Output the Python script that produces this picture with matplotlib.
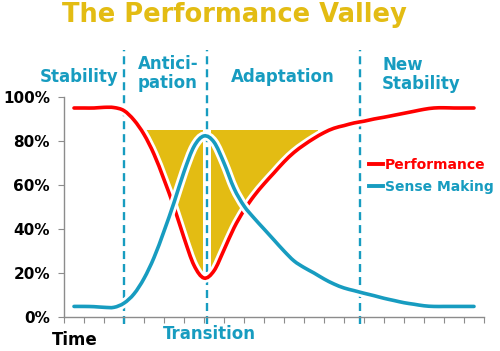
import numpy as np
import matplotlib
matplotlib.use("Agg")
import matplotlib.pyplot as plt
from matplotlib.path import Path
from matplotlib.patches import PathPatch, Rectangle
from matplotlib.lines import Line2D
import matplotlib.patheffects as pe

# time positions (axis units, one tick per unit) and readings in percent
time = [0.5 + 0.5 * i for i in range(41)]
performance = [95, 95, 95, 95.3, 95.2, 93.8, 89.5, 83, 74, 62.5,
               50, 36, 23.5, 17.7, 21, 30.5, 40.5, 48.5, 55, 60.5,
               65.5, 70.5, 74.8, 78.2, 81.2, 83.8, 85.8, 87, 88.2, 89,
               90, 90.8, 91.7, 92.6, 93.5, 94.4, 95, 95.1, 95, 95, 95]
sense_making = [4.8, 4.8, 4.7, 4.4, 4.4, 6.3, 10.5, 17.5, 27, 39,
                52, 66, 77.5, 82.3, 79.5, 70, 58.5, 50.5, 45, 40,
                35, 30, 25.5, 22.5, 20, 17.3, 15, 13.2, 12, 10.8,
                9.7, 8.5, 7.5, 6.5, 5.8, 5.1, 4.8, 4.8, 4.8, 4.8, 4.8]

phase_edges = [3.0, 7.15, 14.8]
phase_names = ["Stability", "Antici-\npation", "Adaptation", "New\nStability"]
yticks = [0, 20, 40, 60, 80, 100]
ytick_labels = [f"{v}%" for v in yticks]

RED = "#FF0000"
TEAL = "#179CC0"
GOLD = "#E3BC13"
GREY = "#8C8C8C"


def smooth_path(x, y):
    # Catmull-Rom style cubic bezier through the points
    n = len(x)
    verts = [(x[0], y[0])]
    codes = [Path.MOVETO]
    for i in range(n - 1):
        a = max(i - 1, 0)
        b = min(i + 2, n - 1)
        c1 = (x[i] + (x[i + 1] - x[a]) / 6, y[i] + (y[i + 1] - y[a]) / 6)
        c2 = (x[i + 1] - (x[b] - x[i]) / 6, y[i + 1] - (y[b] - y[i]) / 6)
        verts += [c1, c2, (x[i + 1], y[i + 1])]
        codes += [Path.CURVE4] * 3
    return Path(verts, codes)


fig = plt.figure(figsize=(5, 3.51), dpi=100)
ax = fig.add_axes([64 / 500, 34 / 351, 420 / 500, 220 / 351])
ax.set_xlim(0, 21)
ax.set_ylim(0, 100)

perf_path = smooth_path(time, performance)
sense_path = smooth_path(time, sense_making)

# region above the performance curve, used to clip the gold valley shapes
above = Path(list(perf_path.vertices) + [(21, 200), (0, 200), (0, 0)],
             list(perf_path.codes) + [Path.LINETO, Path.LINETO, Path.CLOSEPOLY])
clip = PathPatch(above, transform=ax.transData, facecolor="none", edgecolor="none")
ax.add_patch(clip)

for x0, x1 in [(3.5, 6.95), (7.35, 12.7)]:
    r = Rectangle((x0, 0), x1 - x0, 84.8, facecolor=GOLD, edgecolor="none", zorder=1)
    ax.add_patch(r)
    r.set_clip_path(clip)

for x in phase_edges:
    ax.plot([x, x], [-3, 121.5], color=TEAL, lw=1.7, dashes=(3.4, 2.1),
            clip_on=False, zorder=2)

halo = [pe.Stroke(linewidth=6.5, foreground="white"), pe.Normal()]
ax.add_patch(PathPatch(perf_path, facecolor="none", edgecolor=RED, lw=2.6,
                       path_effects=halo, zorder=3, capstyle="round"))
ax.add_patch(PathPatch(sense_path, facecolor="none", edgecolor=TEAL, lw=2.6,
                       path_effects=halo, zorder=4, capstyle="round"))

for s in ["top", "right"]:
    ax.spines[s].set_visible(False)
for s in ["left", "bottom"]:
    ax.spines[s].set_color(GREY)
    ax.spines[s].set_linewidth(1.0)

ax.set_xticks(range(22))
ax.set_xticklabels([])
ax.tick_params(axis="x", length=4, color=GREY, direction="out")
ax.set_yticks(yticks)
ax.set_yticklabels(ytick_labels, fontsize=11, fontweight="bold")
ax.tick_params(axis="y", length=4, color=GREY, pad=6)

handles = [Line2D([], [], color=RED, lw=2.8), Line2D([], [], color=TEAL, lw=2.8)]
leg = ax.legend(handles, ["Performance", "Sense Making"], loc="center left",
                bbox_to_anchor=(0.726, 0.642), frameon=False, borderpad=0,
                borderaxespad=0, handlelength=1.0, handletextpad=0.15,
                labelspacing=0.55, prop={"size": 10, "weight": "bold"})
for t, c in zip(leg.get_texts(), [RED, TEAL]):
    t.set_color(c)


def ftext(px, py, s, **kw):
    fig.text(px / 500, 1 - py / 351, s, **kw)


ftext(234, 15, "The Performance Valley", fontsize=18.5, fontweight="bold",
      color=GOLD, ha="center", va="center")
ftext(79, 77, phase_names[0], fontsize=12, fontweight="bold", color=TEAL,
      ha="center", va="center")
ftext(168, 73.5, phase_names[1], fontsize=12, fontweight="bold", color=TEAL,
      ha="center", va="center", linespacing=1.1)
ftext(283, 77, phase_names[2], fontsize=12, fontweight="bold", color=TEAL,
      ha="center", va="center")
ftext(382, 74.5, phase_names[3], fontsize=12, fontweight="bold", color=TEAL,
      ha="left", va="center", linespacing=1.1)
ftext(74.5, 340, "Time", fontsize=12, fontweight="bold", color="black",
      ha="center", va="center")
ftext(209.5, 334, "Transition", fontsize=12, fontweight="bold", color=TEAL,
      ha="center", va="center")

fig.savefig("out.png", dpi=100)
